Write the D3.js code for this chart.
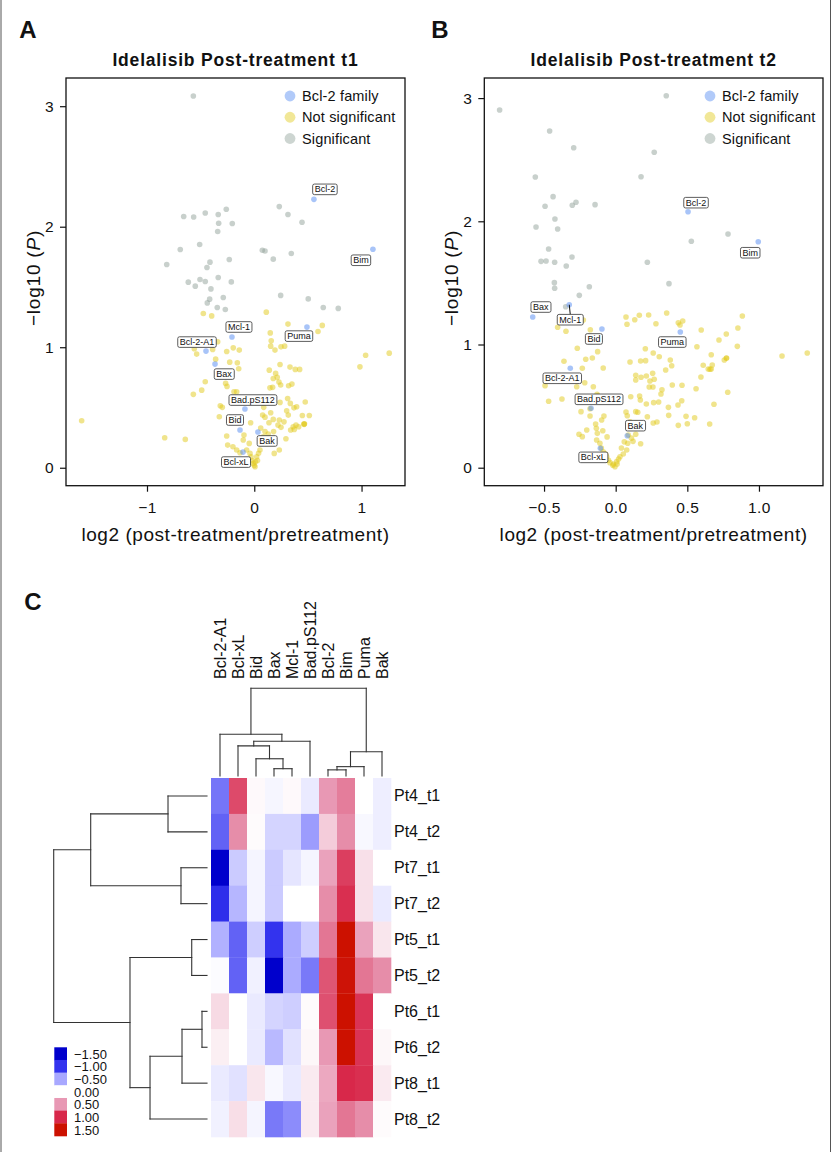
<!DOCTYPE html>
<html>
<head>
<meta charset="utf-8">
<script src="https://cdn.jsdelivr.net/npm/d3@7"></script>
<style>
body { margin: 0; background: #fff; }
svg { display: block; }
text { font-family: "Liberation Sans", Arial, sans-serif; fill: #111; }
</style>
</head>
<body>
<svg id="fig" width="837" height="1152"></svg>
<script>
// ---------- data: volcano t1 ----------
var t1Significant = [[-0.568,3.085],[-0.658,2.085],[-0.565,2.081],[-0.457,2.114],[-0.336,2.101],[-0.261,2.145],[-0.332,2.029],[-0.205,2.027],[-0.341,1.960],[0.233,2.167],[0.314,2.101],[0.445,2.037],[-0.509,1.852],[-0.690,1.811],[0.075,1.805],[0.100,1.799],[0.345,1.778],[0.177,1.731],[-0.233,1.728],[-0.413,1.706],[-0.441,1.662],[-0.816,1.687],[-0.615,1.540],[-0.550,1.507],[-0.506,1.562],[-0.457,1.546],[-0.336,1.579],[-0.214,1.542],[-0.404,1.484],[-0.416,1.399],[-0.438,1.368],[-0.289,1.413],[-0.345,1.330],[-0.270,1.313],[0.246,1.430],[0.503,1.401],[0.643,1.330],[0.783,1.322]];
var t1NotSignificant = [[-1.609,0.390],[-0.835,0.249],[-0.643,0.235],[-0.475,1.280],[-0.397,1.260],[0.112,1.291],[0.314,1.192],[0.634,1.181],[0.594,1.131],[1.258,0.951],[1.038,0.934],[0.985,0.837],[0.149,1.119],[0.158,1.053],[0.153,1.009],[0.193,0.976],[0.249,1.003],[0.283,1.009],[-0.559,0.987],[-0.537,0.943],[-0.388,0.982],[-0.341,1.045],[-0.257,0.965],[-0.196,0.995],[-0.140,0.976],[-0.360,0.901],[-0.229,0.876],[-0.158,0.871],[-0.145,0.821],[0.240,0.857],[0.333,0.835],[0.382,0.816],[0.423,0.816],[0.140,0.810],[0.199,0.783],[0.214,0.750],[0.230,0.711],[0.246,0.686],[0.177,0.741],[0.171,0.667],[0.146,0.663],[0.320,0.680],[0.351,0.694],[-0.457,0.713],[-0.490,0.644],[-0.568,0.609],[-0.267,0.700],[-0.254,0.675],[-0.189,0.630],[-0.164,0.630],[-0.317,0.514],[-0.298,0.501],[-0.326,0.423],[0.116,0.570],[0.240,0.542],[0.311,0.575],[0.336,0.534],[0.370,0.497],[0.395,0.506],[0.475,0.545],[0.302,0.473],[0.317,0.437],[0.088,0.501],[0.078,0.437],[0.100,0.420],[0.153,0.456],[0.177,0.401],[0.137,0.373],[0.233,0.396],[0.221,0.354],[0.277,0.381],[0.249,0.335],[0.363,0.340],[0.389,0.354],[0.414,0.340],[0.448,0.434],[0.513,0.434],[0.463,0.362],[0.465,0.360],[0.468,0.365],[0.339,0.313],[0.373,0.318],[0.295,0.240],[0.233,0.147],[0.186,0.119],[-0.103,0.230],[-0.047,0.202],[-0.257,0.263],[-0.248,0.188],[-0.199,0.174],[-0.034,0.373],[-0.096,0.271],[-0.071,0.147],[-0.040,0.119],[-0.009,0.036],[0.007,0.008],[0.022,0.091],[0.053,0.147],[0.069,0.202],[0.084,0.257],[0.116,0.202],[0.146,0.230],[-0.164,0.147],[-0.133,0.124],[-0.020,0.060],[0.000,0.020],[0.010,0.050],[0.030,0.060],[-0.030,0.090],[0.040,0.120],[0.100,0.300],[0.060,0.330],[0.130,0.280],[0.180,0.300]];
var t1Family = [
  {name: "Bcl-2", x: 0.556, y: 2.227},
  {name: "Bim", x: 1.106, y: 1.813},
  {name: "Mcl-1", x: -0.208, y: 1.085},
  {name: "Bcl-2-A1", x: -0.450, y: 0.968},
  {name: "Puma", x: 0.491, y: 1.167},
  {name: "Bax", x: -0.366, y: 0.860},
  {name: "Bad.pS112", x: -0.087, y: 0.487},
  {name: "Bid", x: -0.133, y: 0.313},
  {name: "Bak", x: 0.034, y: 0.297},
  {name: "Bcl-xL", x: -0.105, y: 0.130}
];

// ---------- data: volcano t2 ----------
var t2Significant = [[0.353,3.019],[-0.810,2.903],[-0.461,2.733],[-0.293,2.597],[0.269,2.560],[-0.561,2.360],[0.177,2.362],[-0.437,2.200],[-0.493,2.122],[-0.303,2.130],[-0.277,2.154],[-0.144,2.135],[-0.424,2.019],[-0.556,1.954],[-0.405,1.938],[0.784,1.897],[0.528,1.838],[-0.468,1.775],[-0.521,1.675],[-0.486,1.678],[-0.426,1.667],[-0.305,1.710],[-0.345,1.637],[0.221,1.667],[-0.428,1.502],[-0.426,1.456],[-0.184,1.469],[-0.254,1.399],[0.372,1.494],[-0.349,1.307]];
var t2NotSignificant = [[0.072,1.223],[0.133,1.201],[0.079,1.164],[0.165,1.237],[0.230,1.239],[0.356,1.256],[0.281,1.169],[0.437,1.177],[0.449,1.158],[0.468,1.191],[0.884,1.231],[0.853,1.134],[0.772,1.085],[0.721,1.037],[0.849,0.985],[0.597,1.118],[0.567,0.982],[1.161,0.907],[1.337,0.931],[0.772,0.888],[0.774,0.890],[0.758,0.874],[0.667,0.917],[0.674,0.834],[0.611,0.831],[0.646,0.801],[0.658,0.799],[0.667,0.801],[0.595,0.736],[0.561,0.641],[0.782,0.612],[0.686,0.515],[0.656,0.355],[0.551,0.406],[0.491,0.417],[0.500,0.357],[0.437,0.344],[0.461,0.544],[0.435,0.509],[0.368,0.490],[0.370,0.425],[0.207,0.966],[0.262,0.931],[0.304,0.901],[0.381,0.874],[0.391,0.828],[0.349,0.793],[0.100,0.858],[0.174,0.866],[0.209,0.869],[0.140,0.750],[0.140,0.712],[0.177,0.734],[0.214,0.744],[0.239,0.704],[0.258,0.766],[0.269,0.718],[0.323,0.633],[0.316,0.598],[0.395,0.671],[0.463,0.669],[0.234,0.655],[0.260,0.655],[0.105,0.576],[0.167,0.582],[0.172,0.550],[0.214,0.517],[0.265,0.528],[0.300,0.533],[0.072,0.452],[0.140,0.455],[0.154,0.450],[0.081,0.422],[0.100,0.373],[0.142,0.365],[0.221,0.414],[0.262,0.363],[0.288,0.371],[0.140,0.271],[0.174,0.195],[0.121,0.214],[0.084,0.198],[0.077,0.144],[0.053,0.111],[0.030,0.089],[0.007,0.049],[-0.005,0.008],[-0.017,0.030],[-0.040,0.041],[-0.063,0.089],[-0.087,0.130],[-0.110,0.198],[-0.133,0.225],[-0.128,0.279],[-0.135,0.320],[-0.140,0.355],[-0.098,0.387],[-0.082,0.420],[-0.110,0.536],[-0.130,0.596],[-0.179,0.420],[-0.202,0.306],[-0.256,0.271],[-0.233,0.252],[-0.493,0.666],[-0.468,0.539],[-0.375,0.558],[-0.361,0.864],[-0.268,0.969],[-0.233,0.807],[-0.209,0.880],[-0.163,0.890],[-0.126,0.942],[-0.087,0.809],[-0.177,1.120],[-0.256,1.193],[-0.298,1.205],[-0.405,1.140],[-0.347,1.107],[-0.216,0.690],[-0.156,0.657],[-0.124,0.582],[-0.272,0.657],[-0.242,0.455],[-0.179,0.479],[0.088,0.265],[-0.226,1.199],[-0.020,0.020],[0.010,0.030],[0.020,0.070],[-0.050,0.060],[-0.070,0.110],[0.040,0.160],[0.060,0.210],[-0.100,0.160],[0.110,0.240],[-0.060,0.250],[-0.090,0.300],[0.100,0.320]];
var t2Family = [
  {name: "Bcl-2", x: 0.505, y: 2.078},
  {name: "Bim", x: 0.995, y: 1.834},
  {name: "Bax", x: -0.579, y: 1.223},
  {name: "Mcl-1", x: -0.324, y: 1.323},
  {name: "Bid", x: -0.096, y: 1.126},
  {name: "Puma", x: 0.451, y: 1.101},
  {name: "Bcl-2-A1", x: -0.317, y: 0.807},
  {name: "Bad.pS112", x: -0.172, y: 0.482},
  {name: "Bak", x: 0.081, y: 0.260},
  {name: "Bcl-xL", x: -0.107, y: 0.157}
];

var legendLabels = ["Bcl-2 family", "Not significant", "Significant"];

// ---------- data: heatmap ----------
var heatCols = ["Bcl-2-A1", "Bcl-xL", "Bid", "Bax", "Mcl-1", "Bad.pS112", "Bcl-2", "Bim", "Puma", "Bak"];
var heatRows = ["Pt4_t1", "Pt4_t2", "Pt7_t1", "Pt7_t2", "Pt5_t1", "Pt5_t2", "Pt6_t1", "Pt6_t2", "Pt8_t1", "Pt8_t2"];
var heatValues = [
  [-0.72, 0.85, 0.03, -0.05, 0.03, -0.12, 0.50, 0.62, 0.00, -0.10],
  [-0.80, 0.55, 0.02, -0.25, -0.25, -0.55, 0.25, 0.55, -0.04, -0.10],
  [-1.50, -0.30, -0.06, -0.30, -0.15, -0.06, 0.45, 0.90, 0.15, 0.00],
  [-1.05, -0.42, -0.06, -0.30, 0.00, 0.00, 0.55, 0.97, 0.15, -0.12],
  [-0.45, -0.80, -0.28, -1.00, -0.48, -0.28, 0.65, 1.50, 0.45, 0.12],
  [-0.02, -0.80, -0.08, -1.50, -0.48, -0.70, 0.80, 1.45, 0.65, 0.55],
  [0.18, 0.00, -0.12, -0.25, -0.28, 0.02, 0.82, 1.50, 0.95, 0.00],
  [0.08, 0.00, -0.12, -0.40, -0.17, 0.04, 0.50, 1.50, 0.95, 0.04],
  [-0.12, -0.17, 0.12, -0.04, -0.12, 0.10, 0.42, 1.00, 0.97, 0.10],
  [-0.08, 0.16, -0.06, -0.70, -0.62, 0.10, 0.45, 0.65, 0.55, 0.02]
];
var colorStops = [-1.5, -1.0, -0.5, 0.0, 0.5, 1.0, 1.5];
var colorStopColors = ["#0000cc", "#3333ee", "#a8a8ff", "#ffffff", "#e898b4", "#d8284a", "#cc1100"];
var legendTickLabels = ["\u22121.50", "\u22121.00", "\u22120.50", "0.00", "0.50", "1.00", "1.50"];

// clustering trees (merge heights)
var rowTree = {h: 3.0, c: [
  {h: 2.276, c: [{h: 0.763, c: ["Pt4_t1", "Pt4_t2"]}, {h: 0.509, c: ["Pt7_t1", "Pt7_t2"]}]},
  {h: 1.507, c: [
    {h: 0.299, c: ["Pt5_t1", "Pt5_t2"]},
    {h: 1.115, c: [{h: 0.489, c: [{h: 0.098, c: ["Pt6_t1", "Pt6_t2"]}, "Pt8_t1"]}, "Pt8_t2"]}
  ]}
]};
var colTree = {h: 3.0, c: [
  {h: 1.43, c: ["Bcl-2-A1", {h: 1.19, c: [{h: 1.03, c: ["Bcl-xL", {h: 0.59, c: ["Bid", {h: 0.25, c: ["Bax", "Mcl-1"]}]}]}, "Bad.pS112"]}]},
  {h: 0.83, c: [{h: 0.32, c: [{h: 0.21, c: ["Bcl-2", "Bim"]}, "Puma"]}, "Bak"]}
]};

// ---------- drawing ----------
var svg = d3.select("#fig");
var yellow = "#e1c919", gray = "#91a199", blue = "#5189f1";

// thin frame lines at the figure edges
svg.append("line").attr("x1", 1).attr("x2", 1).attr("y1", 0).attr("y2", 1152).attr("stroke", "#555").attr("stroke-width", 1);
svg.append("line").attr("x1", 830.5).attr("x2", 830.5).attr("y1", 0).attr("y2", 1152).attr("stroke", "#555").attr("stroke-width", 1);

function drawVolcano(cfg) {
    var g = svg.append("g");
    var x = d3.scaleLinear().domain(cfg.xDomain).range([cfg.left, cfg.right]);
    var y = d3.scaleLinear().domain(cfg.yDomain).range([cfg.bottom, cfg.top]);

    g.append("text")
        .attr("x", (cfg.left + cfg.right) / 2)
        .attr("y", 66)
        .attr("text-anchor", "middle")
        .style("font-weight", "bold")
        .style("font-size", "17.5px")
        .style("letter-spacing", "0.8px")
        .text(cfg.title);

    var xa = g.append("g")
        .attr("transform", "translate(0," + cfg.bottom + ")")
        .call(d3.axisBottom(x).tickValues(cfg.xTicks).tickFormat(d3.format(cfg.xFormat)).tickSize(6).tickPadding(10.5));
    var ya = g.append("g")
        .attr("transform", "translate(" + cfg.left + ",0)")
        .call(d3.axisLeft(y).tickValues([0, 1, 2, 3]).tickFormat(d3.format("d")).tickSize(6).tickPadding(6));
    [xa, ya].forEach(function(a) {
        a.select(".domain").remove();
        a.selectAll("line").attr("stroke", "#111").attr("stroke-width", 1.2);
        a.selectAll("text").style("font-size", "15.5px").style("letter-spacing", "0.5px")
            .style("font-family", "Liberation Sans, Arial, sans-serif").attr("fill", "#111");
    });

    g.append("rect")
        .attr("x", cfg.left).attr("y", cfg.top)
        .attr("width", cfg.right - cfg.left).attr("height", cfg.bottom - cfg.top)
        .attr("fill", "none").attr("stroke", "#111").attr("stroke-width", 1.3);

    g.append("text")
        .attr("x", (cfg.left + cfg.right) / 2)
        .attr("y", 541)
        .attr("text-anchor", "middle")
        .style("font-size", "19px")
        .style("letter-spacing", "0.55px")
        .text("log2 (post-treatment/pretreatment)");

    var yl = g.append("text")
        .attr("transform", "translate(" + cfg.yLabelX + ",278) rotate(-90)")
        .attr("text-anchor", "middle")
        .style("font-size", "19px")
        .style("letter-spacing", "0.8px");
    yl.append("tspan").text("\u2212log10 (");
    yl.append("tspan").style("font-style", "italic").text("P");
    yl.append("tspan").text(")");

    g.selectAll("circle.ns").data(cfg.ns).join("circle")
        .attr("class", "ns")
        .attr("cx", function(d) { return x(d[0]); })
        .attr("cy", function(d) { return y(d[1]); })
        .attr("r", 2.8)
        .attr("fill", yellow).attr("fill-opacity", 0.5);

    g.selectAll("circle.sig").data(cfg.sig).join("circle")
        .attr("class", "sig")
        .attr("cx", function(d) { return x(d[0]); })
        .attr("cy", function(d) { return y(d[1]); })
        .attr("r", 2.8)
        .attr("fill", gray).attr("fill-opacity", 0.5);

    g.selectAll("circle.fam").data(cfg.family).join("circle")
        .attr("class", "fam")
        .attr("cx", function(d) { return x(d.x); })
        .attr("cy", function(d) { return y(d.y); })
        .attr("r", 2.8)
        .attr("fill", blue).attr("fill-opacity", 0.5);

    // labels with boxes
    cfg.family.forEach(function(d) {
        var off = cfg.labelOffsets[d.name];
        var px = x(d.x), py = y(d.y);
        var lx = px + off[0], ly = py + off[1];
        var lg = g.append("g");
        var box = lg.append("rect");
        var t = lg.append("text")
            .attr("x", lx).attr("y", ly)
            .attr("text-anchor", "middle")
            .attr("dominant-baseline", "central")
            .style("font-size", "9px")
            .text(d.name);
        var bb = t.node().getBBox();
        box.attr("x", bb.x - 2).attr("y", ly - 5.3)
            .attr("width", bb.width + 4).attr("height", 10.6)
            .attr("rx", 1.8)
            .attr("fill", "#fff").attr("stroke", "#333").attr("stroke-width", 0.8);
        if (off[2]) {
            lg.insert("line", "rect")
                .attr("x1", px).attr("y1", py)
                .attr("x2", lx).attr("y2", ly - 5.3)
                .attr("stroke", "#111").attr("stroke-width", 1);
        }
    });

    // legend
    var legendColors = [blue, yellow, gray];
    var ly0 = d3.scalePoint().domain(legendLabels).range([96, 138.5]);
    legendLabels.forEach(function(l, i) {
        g.append("circle")
            .attr("cx", cfg.legendX).attr("cy", ly0(l))
            .attr("r", 5.4)
            .attr("fill", legendColors[i]).attr("fill-opacity", 0.45);
        g.append("text")
            .attr("x", cfg.legendX + 12).attr("y", ly0(l))
            .attr("dominant-baseline", "central")
            .style("font-size", "14.5px")
            .style("letter-spacing", "0.15px")
            .text(l);
    });
}

drawVolcano({
    title: "Idelalisib Post-treatment t1",
    left: 66, right: 405, top: 78, bottom: 485.7,
    xDomain: [-1.755, 1.405], yDomain: [-0.149, 3.234],
    xTicks: [-1, 0, 1], xFormat: "d",
    yLabelX: 40, legendX: 290,
    ns: t1NotSignificant, sig: t1Significant, family: t1Family,
    labelOffsets: {"Bcl-2": [11, -10], "Bim": [-12, 11], "Mcl-1": [7, -10], "Bcl-2-A1": [-9, -9],
        "Puma": [-8, 9], "Bax": [9, 10], "Bad.pS112": [8, -9], "Bid": [-5, -10], "Bak": [9, 9], "Bcl-xL": [-7, 10]}
});

drawVolcano({
    title: "Idelalisib Post-treatment t2",
    left: 484.3, right: 823, top: 78, bottom: 485.7,
    xDomain: [-0.917, 1.447], yDomain: [-0.146, 3.163],
    xTicks: [-0.5, 0, 0.5, 1.0], xFormat: ".1f",
    yLabelX: 458, legendX: 710,
    ns: t2NotSignificant, sig: t2Significant, family: t2Family,
    labelOffsets: {"Bcl-2": [8, -9], "Bim": [-8, 11], "Bax": [8, -10], "Mcl-1": [1, 15, true], "Bid": [-8, 10],
        "Puma": [-8, 10], "Bcl-2-A1": [-8, 10], "Bad.pS112": [8, -9], "Bak": [8, -10], "Bcl-xL": [-7, 9]}
});

// panel letters
[["A", 28, 38], ["B", 440, 38], ["C", 33, 610]].forEach(function(p) {
    svg.append("text").attr("x", p[1]).attr("y", p[2]).attr("text-anchor", "middle")
        .style("font-weight", "bold").style("font-size", "24px").text(p[0]);
});

// ---------- heatmap ----------
var hm = svg.append("g");
var colX = d3.scaleBand().domain(heatCols).range([211, 391]);
var rowY = d3.scaleBand().domain(heatRows).range([778, 1137]);
var heatColor = d3.scaleLinear().domain(colorStops).range(colorStopColors).clamp(true);

heatRows.forEach(function(r, i) {
    hm.selectAll(null).data(heatValues[i]).join("rect")
        .attr("x", function(d, j) { return colX(heatCols[j]); })
        .attr("y", rowY(r))
        .attr("width", colX.bandwidth() + 0.3)
        .attr("height", rowY.bandwidth() + 0.3)
        .attr("fill", function(d) { return heatColor(d); });
});

hm.selectAll("text.row").data(heatRows).join("text")
    .attr("class", "row")
    .attr("x", 394)
    .attr("y", function(d) { return rowY(d) + rowY.bandwidth() / 2; })
    .attr("dominant-baseline", "central")
    .style("font-size", "16px")
    .text(function(d) { return d; });

hm.selectAll("text.col").data(heatCols).join("text")
    .attr("class", "col")
    .attr("transform", function(d) { return "translate(" + (colX(d) + colX.bandwidth() / 2 + 5.8) + ",679) rotate(-90)"; })
    .style("font-size", "16px")
    .text(function(d) { return d; });

function drawDendro(tree, leafPos, hScale, vertical) {
    var root = d3.hierarchy(tree, function(d) {
        return d.c ? d.c.map(function(c) { return typeof c === "string" ? {name: c} : c; }) : null;
    });
    root.eachAfter(function(n) {
        if (!n.children) { n.pos = leafPos(n.data.name); n.hh = 0; }
        else { n.pos = d3.mean(n.children, function(c) { return c.pos; }); n.hh = n.data.h; }
    });
    var segs = [];
    root.each(function(n) {
        if (!n.children) return;
        n.children.forEach(function(c) { segs.push([c.pos, hScale(c.hh), c.pos, hScale(n.hh)]); });
        segs.push([n.children[0].pos, hScale(n.hh), n.children[n.children.length - 1].pos, hScale(n.hh)]);
    });
    hm.selectAll(null).data(segs).join("line")
        .attr("x1", function(s) { return vertical ? s[0] : s[1]; })
        .attr("y1", function(s) { return vertical ? s[1] : s[0]; })
        .attr("x2", function(s) { return vertical ? s[2] : s[3]; })
        .attr("y2", function(s) { return vertical ? s[3] : s[2]; })
        .attr("stroke", "#333").attr("stroke-width", 1.1).attr("stroke-linecap", "square");
}

drawDendro(rowTree, function(n) { return rowY(n) + rowY.bandwidth() / 2; },
    d3.scaleLinear().domain([0, 3]).range([207, 53.7]), false);
drawDendro(colTree, function(n) { return colX(n) + colX.bandwidth() / 2; },
    d3.scaleLinear().domain([0, 3]).range([776, 688.3]), true);

// colour key
var keyY = d3.scaleBand().domain(colorStops).range([1047.3, 1136]);
hm.selectAll("rect.key").data(colorStops).join("rect")
    .attr("class", "key")
    .attr("x", 54.3).attr("y", function(d) { return keyY(d); })
    .attr("width", 12.7).attr("height", keyY.bandwidth() + 0.3)
    .attr("fill", function(d) { return heatColor(d); });
hm.selectAll("text.key").data(colorStops).join("text")
    .attr("class", "key")
    .attr("x", 74)
    .attr("y", function(d) { return keyY(d) + keyY.bandwidth() / 2 + 0.5; })
    .attr("dominant-baseline", "central")
    .style("font-size", "13px")
    .text(function(d, i) { return legendTickLabels[i]; });
</script>
</body>
</html>
